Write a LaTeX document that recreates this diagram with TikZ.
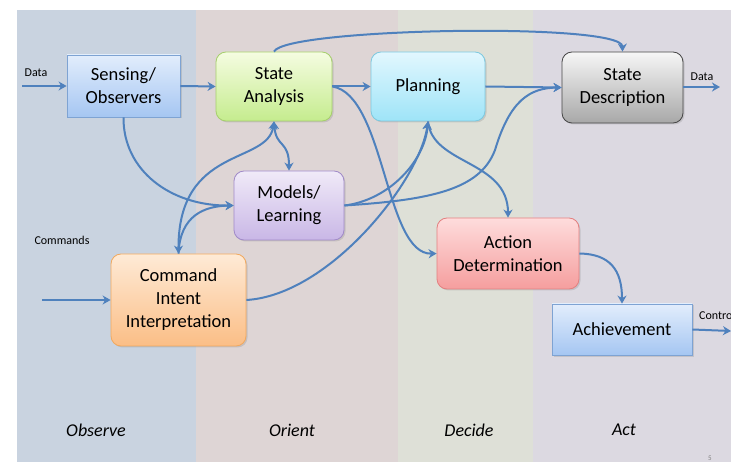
\documentclass[tikz,border=0pt]{standalone}
\usepackage{fontspec}
\setmainfont{Carlito}
\usetikzlibrary{arrows.meta,shadows}
\definecolor{arr}{HTML}{4F81BD}
\definecolor{bObs}{HTML}{C9D3E0}
\definecolor{bOri}{HTML}{DED5D5}
\definecolor{bDec}{HTML}{DEE0D7}
\definecolor{bAct}{HTML}{DCD9E1}
\definecolor{blueEdge}{HTML}{7EA3D3}
\definecolor{blueTop}{HTML}{E2EDFC}
\definecolor{blueBot}{HTML}{A5C6F2}
\tikzset{
  box/.style={draw, line width=0.8pt, align=center, inner sep=2pt,
    font=\fontsize{18.5}{23}\selectfont,
    drop shadow={opacity=0.25, shadow xshift=1.5pt, shadow yshift=-1.5pt}},
  rbox/.style={box, rounded corners=10pt},
  bluebox/.style={box, draw=blueEdge, top color=blueTop, bottom color=blueBot},
  conn/.style={draw=arr, line width=2pt, -{Stealth[length=8pt,width=9pt,inset=2.5pt]}},
  bconn/.style={draw=arr, line width=2pt, {Stealth[length=8pt,width=9pt,inset=2.5pt]}-{Stealth[length=8pt,width=9pt,inset=2.5pt]}},
  small/.style={font=\fontsize{12}{13}\selectfont, inner sep=0pt},
  phase/.style={font=\fontsize{18}{20}\selectfont\itshape, inner sep=0pt}
}
\begin{document}
\begin{tikzpicture}[x=1pt,y=-1pt]
\useasboundingbox (0,0) rectangle (731,462);
\fill[white] (0,0) rectangle (731,462);
% bands
\fill[bObs] (17,10) rectangle (196,462);
\fill[bOri] (196,10) rectangle (398,462);
\fill[bDec] (398,10) rectangle (533,462);
\fill[bAct] (533,10) rectangle (731,462);
% nodes
\node[bluebox, minimum width=113pt, minimum height=62pt] (sens) at (123.5,86) {Sensing/\\Observers};
\node[rbox, draw={rgb,255:red,166;green,207;blue,108}, top color={rgb,255:red,245;green,252;blue,225}, bottom color={rgb,255:red,197;green,236;blue,142}, minimum width=116pt, minimum height=69pt] (sa) at (274,86.5) {State\\Analysis};
\node[rbox, draw={rgb,255:red,124;green,201;blue,224}, top color={rgb,255:red,226;green,247;blue,254}, bottom color={rgb,255:red,158;green,228;blue,248}, minimum width=114pt, minimum height=69pt] (plan) at (428,86.5) {Planning};
\node[rbox, draw={rgb,255:red,70;green,70;blue,70}, top color={rgb,255:red,246;green,246;blue,246}, bottom color={rgb,255:red,168;green,168;blue,168}, minimum width=121pt, minimum height=71pt] (sd) at (622.5,87.5) {State\\Description};
\node[rbox, draw={rgb,255:red,160;green,138;blue,200}, top color={rgb,255:red,240;green,234;blue,248}, bottom color={rgb,255:red,201;green,183;blue,230}, minimum width=110pt, minimum height=69pt] (ml) at (289,205.5) {Models/\\Learning};
\node[rbox, draw={rgb,255:red,241;green,169;blue,95}, top color={rgb,255:red,254;green,234;blue,214}, bottom color={rgb,255:red,251;green,190;blue,134}, minimum width=135pt, minimum height=92pt] (cii) at (178.5,300) {Command\\Intent\\Interpretation};
\node[rbox, draw={rgb,255:red,227;green,128;blue,128}, top color={rgb,255:red,254;green,220;blue,220}, bottom color={rgb,255:red,245;green,158;blue,158}, minimum width=142pt, minimum height=71pt] (ad) at (508,253.5) {Action\\Determination};
\node[bluebox, minimum width=140pt, minimum height=51pt] (ach) at (622,329.5) {Achievement};
% free ends
\coordinate (dataIn) at (22,86);
\coordinate (dataOut) at (720,87);
\coordinate (ctrlOut) at (731,331);
\coordinate (cmdIn) at (42,300);
% labels
\node[small] (ldata) at (36,73) {Data};
\node[small] (rdata) at (702,77) {Data};
\node[small, anchor=west] (lctrl) at (699,315) {Control};
\node[small] (lcmd) at (62,240) {Commands};
\node[phase] (pobs) at (96,430) {Observe};
\node[phase] (pori) at (292,430) {Orient};
\node[phase] (pdec) at (469,430) {Decide};
\node[phase] (pact) at (624,430) {Act};
\node[font=\fontsize{7}{8}\selectfont, text=gray, inner sep=0pt] (pnum) at (710,458) {5};
% straight connectors
\draw[conn] (dataIn) -- (sens.west);
\draw[conn] (sens.east) -- (sa.west);
\draw[conn] (sa.east) -- (plan.west);
\draw[conn] (plan.east) -- (sd.west);
\draw[conn] (sd.east |- dataOut) -- (dataOut);
\draw[conn] (ach.east) -- (ctrlOut);
\draw[conn] (cmdIn) -- (cii.west);
% curved connectors
\draw[conn] (sa.north) .. controls (285,28) and (622,22) .. (sd.north);
\draw[conn] (sens.south) .. controls (123,170) and (170,206) .. (ml.west);
\draw[bconn] (sa.south) .. controls (276,148) and (289,140) .. (ml.north);
\draw[bconn] (sa.south) .. controls (268,165) and (178,145) .. (cii.north);
\draw[conn] (cii.north) .. controls (180,215) and (205,206) .. (ml.west);
\draw[conn] (ml.east) .. controls (390,200) and (425,160) .. (plan.south);
\draw[conn] (ml.east) .. controls (430,200) and (480,190) .. (495,150) .. controls (510,100) and (530,88) .. (sd.west);
\draw[conn] (cii.east) .. controls (330,295) and (420,180) .. (plan.south);
\draw[conn] (plan.south) .. controls (432,165) and (508,160) .. (ad.north);
\draw[conn] (sa.east) .. controls (385,95) and (385,255) .. (ad.west);
\draw[conn] (ad.east) .. controls (610,254) and (622,270) .. (ach.north);
\end{tikzpicture}
\end{document}
